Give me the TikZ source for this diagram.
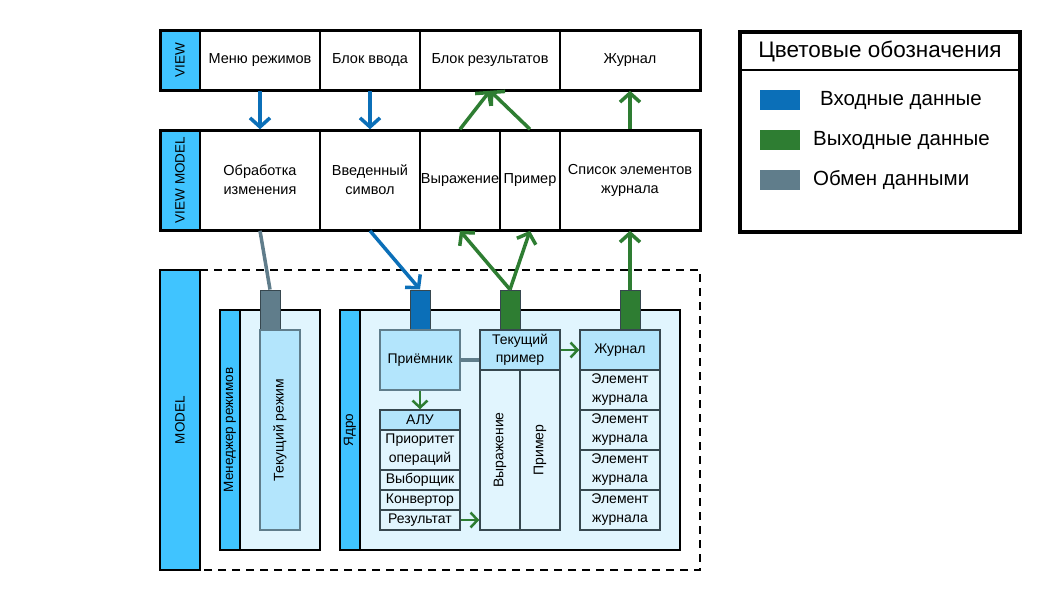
\documentclass[tikz,border=0pt]{standalone}
\usepackage{fontspec}
\setmainfont{Liberation Sans}
\usetikzlibrary{arrows.meta}
\definecolor{lbl}{HTML}{40C4FF}
\definecolor{inblue}{HTML}{0B6FB8}
\definecolor{outgreen}{HTML}{2E7D32}
\definecolor{slate}{HTML}{607D8B}
\definecolor{panel}{HTML}{E1F5FE}
\definecolor{innerc}{HTML}{B3E5FC}
\definecolor{darkb}{HTML}{37474F}
\begin{document}
\begin{tikzpicture}[x=1pt,y=-1pt,
  sz/.style n args={2}{minimum width=#1pt,minimum height=#2pt},
  txt/.style={font=\fontsize{14.5}{19}\selectfont, align=center, inner sep=0pt},
  cell/.style={txt, draw=black, line width=1.5pt, fill=white},
  lblcell/.style={draw=black, line width=1.5pt, fill=lbl, font=\fontsize{13.5}{16}\selectfont, inner sep=0pt, rotate=90},
  outer/.style={draw=black, line width=3pt},
  panelbox/.style={draw=black, line width=2pt, fill=panel, inner sep=0pt},
  strip/.style={draw=black, line width=1.5pt, fill=lbl, font=\fontsize{13.5}{16}\selectfont, inner sep=0pt, rotate=90},
  inbox/.style={txt, font=\fontsize{14}{18}\selectfont, draw=slate, line width=1.5pt, fill=innerc},
  hbox/.style={txt, font=\fontsize{14}{18}\selectfont, draw=darkb, line width=1.5pt, fill=innerc},
  item/.style={txt, font=\fontsize{14}{19}\selectfont, draw=darkb, line width=1.5pt, fill=panel},
  conn/.style={draw=darkb, line width=1pt, inner sep=0pt, sz={20}{40}},
  tipbig/.style={-{Straight Barb[length=9pt,width=20pt]}},
  tipsmall/.style={-{Straight Barb[length=7pt,width=15pt]}},
  inarrow/.style={inblue, line width=3.5pt, tipbig},
  outarrow/.style={outgreen, line width=3.5pt, tipbig},
  smallout/.style={outgreen, line width=2.5pt, tipsmall},
  xchg/.style={slate, line width=3.5pt},
  swatch/.style={inner sep=0pt, sz={40}{20}},
  legtxt/.style={font=\fontsize{20.5}{24}\selectfont, inner sep=0pt, anchor=west}
]
\useasboundingbox (0,0) rectangle (1052,600);
\fill[white] (0,0) rectangle (1052,600);

% ---------------- VIEW row
\node[lblcell, sz={60}{40}] (viewlbl) at (180,60) {VIEW};
\node[cell, sz={120}{60}] (vmenu) at (260,60) {Меню режимов};
\node[cell, sz={100}{60}] (vinput) at (370,60) {Блок ввода};
\node[cell, sz={140}{60}] (vres) at (490,60) {Блок результатов};
\node[cell, sz={140}{60}] (vjour) at (630,60) {Журнал};
\draw[outer] (160,30) rectangle (700,90);

% ---------------- VIEW MODEL row
\node[lblcell, sz={100}{40}] (vmlbl) at (180,180) {VIEW MODEL};
\node[cell, sz={120}{100}] (vmobr) at (260,180) {Обработка\\изменения};
\node[cell, sz={100}{100}] (vmsym) at (370,180) {Введенный\\символ};
\node[cell, sz={80}{100}] (vmexpr) at (460,180) {Выражение};
\node[cell, sz={60}{100}] (vmpr) at (530,180) {Пример};
\node[cell, sz={140}{100}] (vmlist) at (630,180) {Список элементов\\журнала};
\draw[outer] (160,130) rectangle (700,230);

% ---------------- MODEL
\draw[black, line width=2.5pt, dash pattern=on 8pt off 6pt] (200,270) -- (700,270) -- (700,570) -- (200,570);
\node[strip, line width=2pt, sz={300}{40}] (modellbl) at (180,420) {MODEL};

% mode manager
\node[panelbox, sz={100}{240}] (mgr) at (270,430) {};
\node[strip, sz={240}{20}] (mgrlbl) at (230,430) {Менеджер режимов};
\node[conn, fill=slate] (mconn) at (270,310) {};
\node[inbox, sz={200}{40}, rotate=90] (curmode) at (280,430) {Текущий режим};

% core
\node[panelbox, sz={340}{240}] (core) at (510,430) {};
\node[strip, sz={240}{20}] (corelbl) at (350,430) {Ядро};
\node[conn, fill=inblue] (pconn) at (420,310) {};
\node[conn, fill=outgreen] (tconn) at (510,310) {};
\node[conn, fill=outgreen] (jconn) at (630,310) {};

\node[inbox, sz={80}{60}] (recv) at (420,360) {Приёмник};

\node[hbox, sz={80}{20}] (aluh) at (420,420) {АЛУ};
\node[item, sz={80}{40}] (alu1) at (420,450) {Приоритет\\операций};
\node[item, sz={80}{20}] (alu2) at (420,480) {Выборщик};
\node[item, sz={80}{20}] (alu3) at (420,500) {Конвертор};
\node[item, sz={80}{20}] (alu4) at (420,520) {Результат};

\node[hbox, sz={80}{40}] (tph) at (520,350) {Текущий\\пример};
\node[item, sz={160}{40}, rotate=90] (tpe) at (500,450) {Выражение};
\node[item, sz={160}{40}, rotate=90] (tpp) at (540,450) {Пример};

\node[hbox, sz={80}{40}] (jh) at (620,350) {Журнал};
\node[item, sz={80}{40}] (j1) at (620,390) {Элемент\\журнала};
\node[item, sz={80}{40}] (j2) at (620,430) {Элемент\\журнала};
\node[item, sz={80}{40}] (j3) at (620,470) {Элемент\\журнала};
\node[item, sz={80}{40}] (j4) at (620,510) {Элемент\\журнала};

% ---------------- connectors
\draw[inarrow] (vmenu.south) -- (vmobr.north);
\draw[inarrow] (vinput.south) -- (vmsym.north);
\draw[outarrow] (vmexpr.north) -- (vres.south);
\draw[outarrow] (vmpr.north) -- (vres.south);
\draw[outarrow] (vmlist.north) -- (vjour.south);

\draw[xchg] (vmobr.south) -- (mconn.north);
\draw[inarrow] (vmsym.south) -- (pconn.north);
\draw[outarrow] (tconn.north) -- (vmexpr.south);
\draw[outarrow] (tconn.north) -- (vmpr.south);
\draw[outarrow] (jconn.north) -- (vmlist.south);

\draw[slate, line width=4.5pt] (recv.east) -- (recv.east -| tph.west);
\draw[smallout] (recv.south) -- (aluh.north);
\draw[smallout] (tph.east) -- (jh.west);
\draw[smallout] (alu4.east) -- (alu4.east -| tph.west);

% ---------------- legend
\node[draw=black, line width=3.5pt, inner sep=0pt, sz={280}{200}] (legend) at (880,132) {};
\node[font=\fontsize{22.5}{26}\selectfont, inner sep=0pt] (legtitle) at (880,51) {Цветовые обозначения};
\draw[black, line width=2pt] (legend.west |- 0,70) coordinate (ldl) -- (legend.east |- 0,70) coordinate (ldr);
\node[swatch, fill=inblue] (sw1) at (780,100) {};
\node[swatch, fill=outgreen] (sw2) at (780,140) {};
\node[swatch, fill=slate] (sw3) at (780,180) {};
\node[legtxt] (lt1) at (820,100) {Входные данные};
\node[legtxt] (lt2) at (813,140) {Выходные данные};
\node[legtxt] (lt3) at (813,180) {Обмен данными};
\end{tikzpicture}
\end{document}
